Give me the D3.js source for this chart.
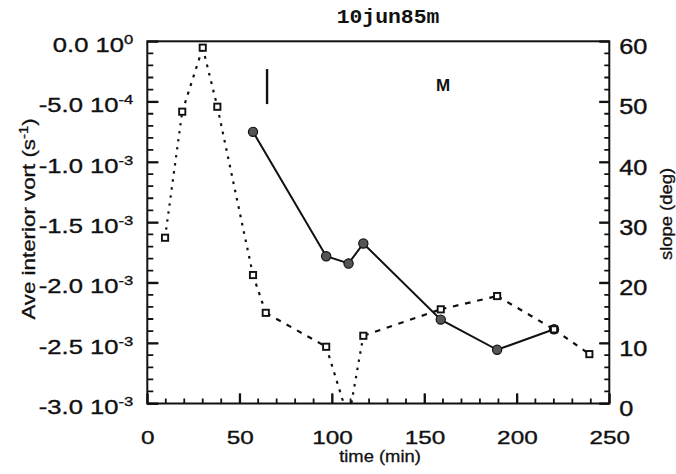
<!DOCTYPE html>
<html><head><meta charset="utf-8">
<script src="https://cdn.jsdelivr.net/npm/d3@7"></script>
<style>body{margin:0;background:#fff} svg{display:block}</style>
</head><body><svg id="c" width="676" height="474"></svg>
<script>
// ---- data ----
const chartTitle = "10jun85m";
const vortTime  = [9.6, 18.9, 30.0, 37.9, 57.2, 64.1, 96.8, 108.9, 116.9, 158.8, 189.3, 220.1, 239.2];
const vortValue = [-1.627e-3, -0.583e-3, -0.053e-3, -0.542e-3, -1.936e-3, -2.249e-3, -2.530e-3, -3.13e-3, -2.439e-3, -2.220e-3, -2.110e-3, -2.386e-3, -2.591e-3];
const slopeTime  = [57.2, 96.8, 108.9, 116.9, 158.8, 189.3, 220.1];
const slopeValue = [45.0, 24.4, 23.2, 26.5, 13.9, 8.9, 12.3];
const xTicks = [0, 50, 100, 150, 200, 250];
const yLeftTicks = [0, -0.5e-3, -1.0e-3, -1.5e-3, -2.0e-3, -2.5e-3, -3.0e-3];
const yLeftMantissa = ["0.0", "-5.0", "-1.0", "-1.5", "-2.0", "-2.5", "-3.0"];
const yLeftExponent = ["0", "-4", "-3", "-3", "-3", "-3", "-3"];
const yRightTicks = [0, 10, 20, 30, 40, 50, 60];
const xTitle = "time (min)";
const yLeftTitle = "Ave interior vort (s";
const yRightTitle = "slope (deg)";
const barMarkTime = 64.8, barMarkSlope = [55.4, 49.6];
const labelM = "M", labelMTime = 160, labelMSlope = 51.8;

// ---- layout ----
const L = 147.3, R = 609.3, T = 41.3, B = 403.5;
const svg = d3.select("#c");
const FONT = "'Liberation Sans', Arial, Helvetica, sans-serif";
const INK = "#111";

const x  = d3.scaleLinear().domain([0, 250]).range([L, R]);
const yL = d3.scaleLinear().domain([-3e-3, 0]).range([B, T]);
const yR = d3.scaleLinear().domain([0, 60]).range([B, T]);

const xMinor = d3.range(0, 251, 10);
const yLMinor = d3.range(-30, 1).map(i => i * 1e-4);
const yRMinor = d3.range(0, 61, 2);

svg.append("rect").attr("width", 676).attr("height", 474).attr("fill", "#fff");

svg.append("clipPath").attr("id", "plotclip").append("rect")
  .attr("x", L).attr("y", T).attr("width", R - L).attr("height", B - T);

// ---- tick marks as paths built from the scales ----
function tickPath(values, pos, along) {
  const p = d3.path();
  values.forEach((v, i) => {
    const len = i % 5 === 0 ? 10 : 5;
    const q = pos(v);
    if (along === "left")   { p.moveTo(L, q); p.lineTo(L + len + (i % 5 === 0 ? 1 : 1), q); }
    if (along === "right")  { p.moveTo(R, q); p.lineTo(R - len, q); }
    if (along === "bottom") { p.moveTo(q, B); p.lineTo(q, B - len); }
  });
  return p.toString();
}
const tk = svg.append("g").attr("fill", "none").attr("stroke", INK).attr("stroke-width", 1.8);
tk.append("path").attr("d", tickPath(yLMinor, yL, "left"));
tk.append("path").attr("d", tickPath(xMinor, x, "bottom"));
tk.append("path").attr("d", tickPath(yRMinor, yR, "right"));

// slope: solid line + filled circles
const slopePts = slopeTime.map((t, i) => [t, slopeValue[i]]);
svg.append("path").datum(slopePts)
  .attr("d", d3.line().x(d => x(d[0])).y(d => yR(d[1])))
  .attr("fill", "none").attr("stroke", INK).attr("stroke-width", 2);
svg.append("g").selectAll("circle").data(slopePts).join("circle")
  .attr("cx", d => x(d[0])).attr("cy", d => yR(d[1])).attr("r", 4.6)
  .attr("fill", "#555").attr("stroke", INK).attr("stroke-width", 1.2);

// vorticity: dashed line + open squares
const vortPts = vortTime.map((t, i) => [t, vortValue[i]]);
const gv = svg.append("g").attr("clip-path", "url(#plotclip)");
const seg = d3.line().x(d => x(d[0])).y(d => yL(d[1]));
for (let i = 0; i < vortPts.length - 1; i++) {
  const a = vortPts[i], b = vortPts[i + 1];
  const dx = x(b[0]) - x(a[0]), dy = yL(b[1]) - yL(a[1]);
  const c = Math.abs(dx) / Math.hypot(dx, dy);
  const dash = 1.8 + 4 * c, gap = 5.6 + 1.2 * c;
  gv.append("path").datum([a, b]).attr("d", seg)
    .attr("fill", "none").attr("stroke", INK).attr("stroke-width", 2.2)
    .attr("stroke-dasharray", `${dash.toFixed(2)},${gap.toFixed(2)}`);
}
const S = 6.2;
svg.append("g").selectAll("rect").data(vortPts.filter(d => d[1] >= -3e-3 && d[1] <= 0)).join("rect")
  .attr("x", d => x(d[0]) - S / 2).attr("y", d => yL(d[1]) - S / 2)
  .attr("width", S).attr("height", S)
  .attr("fill", "#fff").attr("stroke", INK).attr("stroke-width", 1.9);

// annotations
svg.append("line")
  .attr("x1", x(barMarkTime)).attr("x2", x(barMarkTime))
  .attr("y1", yR(barMarkSlope[0])).attr("y2", yR(barMarkSlope[1]))
  .attr("stroke", INK).attr("stroke-width", 2.4);
svg.append("text").attr("transform", `translate(${x(labelMTime)},${yR(labelMSlope)})`)
  .attr("text-anchor", "middle").attr("font-family", FONT).attr("font-weight", "bold")
  .attr("font-size", 17).attr("fill", INK).text(labelM);

// frame
svg.append("rect").attr("x", L).attr("y", T).attr("width", R - L).attr("height", B - T)
  .attr("fill", "none").attr("stroke", INK).attr("stroke-width", 2);

// ---- axes (labels + major ticks) ----
function styleAxis(dim, len) {
  return g => {
    g.select(".domain").remove();
    g.selectAll(".tick line")
      .attr("x1", 0).attr("y1", 0)
      .attr("x2", dim === "x" ? len : 0).attr("y2", dim === "y" ? len : 0)
      .attr("stroke", INK).attr("stroke-width", 1.8);
  };
}

const gl = svg.append("g").attr("transform", `translate(${L},0)`)
  .call(d3.axisLeft(yL).tickValues(yLeftTicks).tickSize(-11).tickFormat(() => ""))
  .call(styleAxis("x", 11));
gl.selectAll(".tick text").each(function(d, i) {
  const t = d3.select(this);
  t.attr("x", 0).attr("dy", null).attr("y", 0)
   .attr("text-anchor", "end")
   .attr("transform", "translate(-14,10) scale(1.28,1)")
   .attr("font-family", FONT).attr("font-size", 20).attr("fill", INK)
   .attr("stroke", INK).attr("stroke-width", 0.35);
  t.text(null);
  t.append("tspan").text(yLeftMantissa[i] + " 10");
  t.append("tspan").attr("dy", -8).attr("font-size", 13).text(yLeftExponent[i]);
});

const gb = svg.append("g").attr("transform", `translate(0,${B})`)
  .call(d3.axisBottom(x).tickValues(xTicks).tickSize(-10))
  .call(styleAxis("y", -10));
gb.selectAll(".tick text")
  .attr("y", 0).attr("dy", null)
  .attr("transform", "translate(0,40.5) scale(1.28,1)")
  .attr("font-family", FONT).attr("font-size", 19).attr("fill", INK)
  .attr("stroke", INK).attr("stroke-width", 0.35);

const gr = svg.append("g").attr("transform", `translate(${R},0)`)
  .call(d3.axisRight(yR).tickValues(yRightTicks).tickSize(-10))
  .call(styleAxis("x", -10));
gr.selectAll(".tick text")
  .attr("x", 0).attr("dy", null).attr("y", 0)
  .attr("text-anchor", "start")
  .attr("transform", "translate(10,12) scale(1.15,1)")
  .attr("font-family", FONT).attr("font-size", 22).attr("fill", INK)
  .attr("stroke", INK).attr("stroke-width", 0.4);

// titles
svg.append("text").attr("transform", "translate(388,23) scale(1.07,1)")
  .attr("text-anchor", "middle").attr("font-family", "'Liberation Mono', 'Courier New', monospace")
  .attr("font-weight", "bold").attr("font-size", 20).attr("fill", INK).text(chartTitle);

svg.append("text").attr("transform", "translate(380,462) scale(1.15,1)")
  .attr("text-anchor", "middle").attr("font-family", FONT).attr("font-size", 16).attr("fill", INK)
  .attr("stroke", INK).attr("stroke-width", 0.3).text(xTitle);

const yt = svg.append("text").attr("transform", "translate(35,219) rotate(-90) scale(1.24,1)")
  .attr("text-anchor", "middle").attr("font-family", FONT).attr("font-size", 18).attr("fill", INK)
  .attr("stroke", INK).attr("stroke-width", 0.3);
yt.append("tspan").text(yLeftTitle);
yt.append("tspan").attr("dy", -7).attr("font-size", 12).text("-1");
yt.append("tspan").attr("dy", 7).text(")");

svg.append("text").attr("transform", "translate(672,214) rotate(-90) scale(1.15,1)")
  .attr("text-anchor", "middle").attr("font-family", FONT).attr("font-size", 16).attr("fill", INK)
  .attr("stroke", INK).attr("stroke-width", 0.3).text(yRightTitle);
</script></body></html>
